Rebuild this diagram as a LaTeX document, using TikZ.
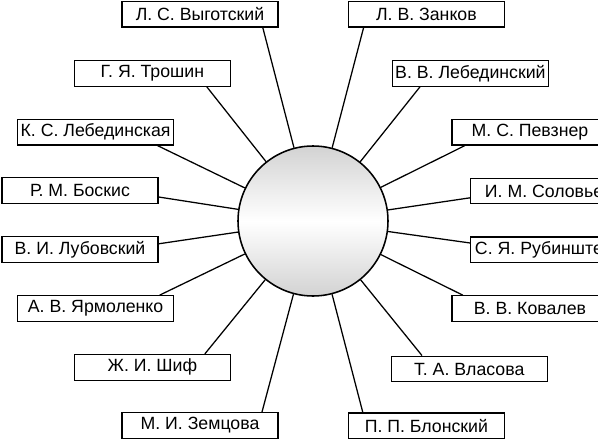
\documentclass[tikz,border=0pt]{standalone}
\usepackage{fontspec}
\setmainfont{Liberation Sans}

\begin{document}
\begin{tikzpicture}[
  person/.style={draw, line width=0.9pt, fill=white, minimum width=3.9cm, minimum height=0.64cm, inner sep=0pt, font=\fontsize{12.6}{14}\selectfont},
  link/.style={line width=0.9pt}]

\useasboundingbox (0,0) rectangle (14.95,11.075);

\node[circle, draw, line width=1.1pt, minimum size=3.75cm, top color=gray!35, bottom color=gray!35, middle color=white] (c) at (7.825,5.55) {};

% left column
\node[person] (vyg) at (5.0,10.72) {Л. С. Выготский};
\node[person] (tro) at (3.81,9.24) {Г. Я. Трошин};
\node[person] (leb) at (2.39,7.77) {К. С. Лебединская};
\node[person] (bos) at (2.0,6.31) {Р. М. Боскис};
\node[person] (lub) at (2.0,4.84) {В. И. Лубовский};
\node[person] (jar) at (2.39,3.36) {А. В. Ярмоленко};
\node[person] (shi) at (3.81,1.89) {Ж. И. Шиф};
\node[person] (zem) at (5.0,0.44) {М. И. Земцова};

% right column
\node[person] (zan) at (10.66,10.72) {Л. В. Занков};
\node[person] (vvl) at (11.76,9.24) {В. В. Лебединский};
\node[person] (pev) at (13.25,7.77) {М. С. Певзнер};
\node[person] (sol) at (13.72,6.3) {И. М. Соловьев};
\node[person] (rub) at (13.72,4.83) {С. Я. Рубинштейн};
\node[person] (kov) at (13.25,3.36) {В. В. Ковалев};
\node[person] (vla) at (11.73,1.85) {Т. А. Власова};
\node[person] (blo) at (10.66,0.43) {П. П. Блонский};

% links to the circle
\draw[link] ([xshift=1.57cm]vyg.south) -- (c);
\draw[link] ([xshift=1.36cm]tro.south) -- (c);
\draw[link] ([xshift=1.55cm]leb.south) -- (c);
\draw[link] ([yshift=-0.16cm]bos.east) -- (c);
\draw[link] ([yshift=0.14cm]lub.east) -- (c);
\draw[link] ([xshift=1.6cm]jar.north) -- (c);
\draw[link] ([xshift=1.31cm]shi.north) -- (c);
\draw[link] ([xshift=1.55cm]zem.north) -- (c);

\draw[link] ([xshift=-1.57cm]zan.south) -- (c);
\draw[link] ([xshift=-1.26cm]vvl.south) -- (c);
\draw[link] ([xshift=-1.63cm]pev.south) -- (c);
\draw[link] ([yshift=-0.17cm]sol.west) -- (c);
\draw[link] ([yshift=0.17cm]rub.west) -- (c);
\draw[link] ([xshift=-1.68cm]kov.north) -- (c);
\draw[link] ([xshift=-1.18cm]vla.north) -- (c);
\draw[link] ([xshift=-1.59cm]blo.north) -- (c);

\end{tikzpicture}
\end{document}
